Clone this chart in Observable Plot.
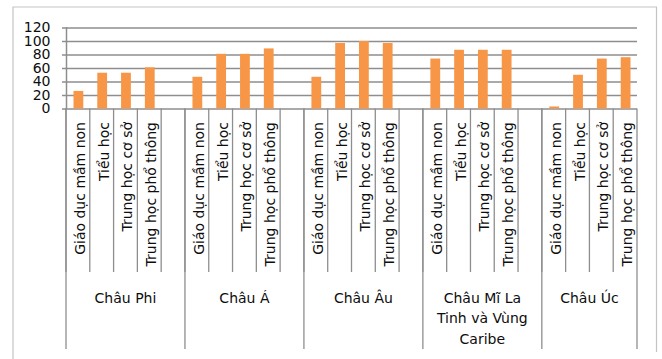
<!DOCTYPE html>
<html>
<head>
<meta charset="utf-8">
<script src="https://cdn.jsdelivr.net/npm/d3@7"></script>
<script src="https://cdn.jsdelivr.net/npm/@observablehq/plot@0.6"></script>
<style>
  html, body { margin: 0; padding: 0; background: #fff; }
  #chart svg { display: block; }
</style>
</head>
<body>
<div id="chart"></div>
<script>
// Regions (outer axis level); the long name wraps over three lines
const regions = ["Châu Phi", "Châu Á", "Châu Âu", "Châu Mĩ La Tinh và Vùng Caribe", "Châu Úc"];
const regionLines = [["Châu Phi"], ["Châu Á"], ["Châu Âu"], ["Châu Mĩ La", "Tinh và Vùng", "Caribe"], ["Châu Úc"]];
// Education levels (inner axis level)
const levels = ["Giáo dục mầm non", "Tiểu học", "Trung học cơ sở", "Trung học phổ thông"];
// Values per region, in the order of `levels`
const chauPhi = [26, 53, 53, 61];
const chauA = [47, 81, 81, 89];
const chauAu = [47, 97, 100, 97];
const chauMiLaTinh = [74, 87, 87, 87];
const chauUc = [3, 50, 74, 76];
const yTicks = [0, 20, 40, 60, 80, 100, 120];

const series = [chauPhi, chauA, chauAu, chauMiLaTinh, chauUc];

// One band per level, plus an empty spacer band after every region but the last
const slotKeys = [];
const groups = [];
regions.forEach((r, i) => {
  const keys = levels.map(l => `${i}|${l}`);
  if (i < regions.length - 1) keys.push(`${i}|`);
  slotKeys.push(...keys);
  groups.push({region: r, lines: regionLines[i], keys});
});

const data = [];
series.forEach((vals, i) => vals.forEach((v, j) => data.push({slot: `${i}|${levels[j]}`, value: v})));

const font = "DejaVu Sans";
const gray = "#8e8e8e";
const ink = "#0d0d0d";

// Two-level category axis: separators between bands and regions, region names
function categoryAxis(index, scales, values, dims) {
  const x = scales.x;
  const bw = x.bandwidth ? x.bandwidth() : x(slotKeys[1]) - x(slotKeys[0]);
  const yAxis = dims.height - dims.marginBottom;
  const shortEnd = yAxis + 163.5;
  const longEnd = yAxis + 240.5;
  const g = d3.create("svg:g").attr("fill", "none");

  // chart area border
  g.append("path")
    .attr("d", `M13,${dims.height}V7H656.5V352`)
    .attr("stroke", "#c4c4c4").attr("stroke-width", 1.2);

  // band separators
  slotKeys.forEach(k => {
    g.append("line")
      .attr("x1", x(k)).attr("x2", x(k))
      .attr("y1", yAxis).attr("y2", shortEnd)
      .attr("stroke", gray).attr("stroke-width", 1.3);
  });

  // region separators and labels
  groups.forEach((grp, gi) => {
    const x0 = x(grp.keys[0]);
    const x1 = x(grp.keys[grp.keys.length - 1]) + bw;
    const edges = gi === groups.length - 1 ? [x0, x1] : [x0];
    edges.forEach(e => g.append("line")
      .attr("x1", e).attr("x2", e)
      .attr("y1", yAxis).attr("y2", longEnd)
      .attr("stroke", gray).attr("stroke-width", 1.3));
    const t = g.append("text")
      .attr("fill", ink)
      .attr("font-family", font)
      .attr("font-size", 14)
      .attr("text-anchor", "middle");
    grp.lines.forEach((line, li) => t.append("tspan")
      .attr("x", (x0 + x1) / 2)
      .attr("y", yAxis + 194 + li * 20.5)
      .text(line));
  });
  return g.node();
}

const chart = Plot.plot({
  width: 662,
  height: 359,
  marginLeft: 66,
  marginRight: 25,
  marginTop: 27.5,
  marginBottom: 250.5,
  style: {fontFamily: font, fontSize: "14px", color: ink, background: "#fff", overflow: "visible"},
  x: {type: "band", domain: slotKeys, padding: 0, round: false},
  y: {domain: [0, 120]},
  marks: [
    Plot.gridY(yTicks, {stroke: gray, strokeOpacity: 1, strokeWidth: 1.5}),
    Plot.axisY(yTicks, {tickSize: 4, tickPadding: 12, stroke: gray, strokeWidth: 1.5, fontSize: 14, label: null}),
    Plot.frame({anchor: "left", stroke: gray, strokeWidth: 1.5}),
    Plot.barY(data, {x: "slot", y: "value", fill: "#F79646", insetLeft: 7.5, insetRight: 6.5}),
    Plot.axisX({
      tickSize: 0,
      tickRotate: -90,
      tickPadding: 13,
      textAnchor: "end",
      dx: 2,
      fontSize: 14,
      label: null,
      tickFormat: d => d.split("|")[1]
    }),
    categoryAxis
  ]
});

document.getElementById("chart").appendChild(chart);
</script>
</body>
</html>
